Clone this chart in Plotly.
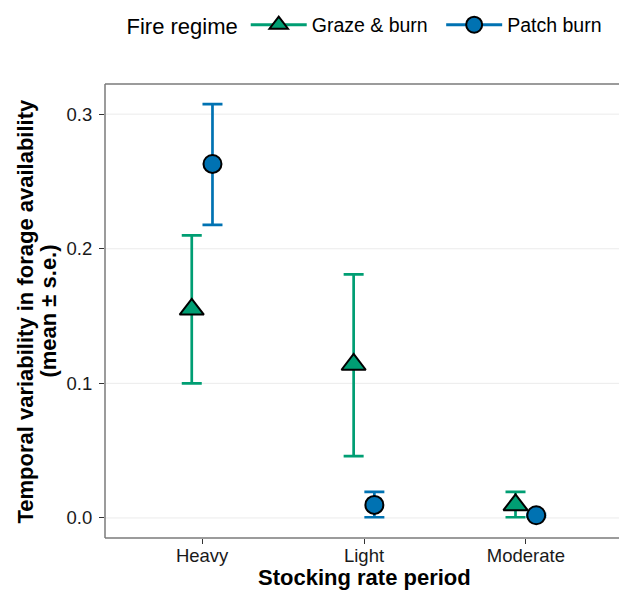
import plotly.graph_objects as go

# ---- data ----
periods = ["Heavy", "Light", "Moderate"]
regimes = ["Graze & burn", "Patch burn"]

graze_mean = [0.155, 0.114, 0.0097]
graze_low = [0.100, 0.046, 0.0005]
graze_high = [0.210, 0.181, 0.0193]

patch_mean = [0.263, 0.0097, 0.002]
patch_low = [0.2177, 0.0005, 0.001]
patch_high = [0.3075, 0.0193, 0.003]

y_ticks = [0.0, 0.1, 0.2, 0.3]

# ---- style ----
W, H = 619, 596
L, T, B, R = 104.5, 84, 57.7, 0
FONT = "Liberation Sans"
GREEN = "#009E73"
BLUE = "#0072B2"
FRAME = "#7A7A7A"
GRID = "#EBEBEB"
DODGE = 0.064

plot_w = W - L - R
plot_h = H - T - B

def px_x(p):
    return (p - L) / plot_w

def px_y(p):
    return (H - B - p) / plot_h

idx = list(range(len(periods)))

series = [
    (regimes[0], graze_mean, graze_low, graze_high, GREEN, "triangle-up", 21, -DODGE, "legend"),
    (regimes[1], patch_mean, patch_low, patch_high, BLUE, "circle", 18, DODGE, "legend2"),
]

fig = go.Figure()
for name, m, lo, hi, col, sym, size, off, lg in series:
    fig.add_trace(go.Scatter(
        x=[i + off for i in idx], y=m, mode="markers", name=name, showlegend=False,
        marker=dict(symbol=sym, size=size, color=col, line=dict(color="black", width=2)),
        error_y=dict(type="data", symmetric=False,
                     array=[h - v for h, v in zip(hi, m)],
                     arrayminus=[v - l for v, l in zip(m, lo)],
                     color=col, thickness=2.7, width=10),
    ))
for name, m, lo, hi, col, sym, size, off, lg in series:
    fig.add_trace(go.Scatter(
        x=[None], y=[None], mode="lines+markers", name=name, showlegend=True, legend=lg,
        line=dict(color=col, width=3),
        marker=dict(symbol=sym, size=size, color=col, line=dict(color="black", width=2)),
    ))

legend_common = dict(
    orientation="h", xanchor="left", y=px_y(25), yanchor="middle",
    font=dict(size=19.5, color="black"), itemsizing="trace", itemwidth=56,
    bgcolor="rgba(0,0,0,0)",
)

frame = dict(type="line", xref="paper", yref="paper", layer="above",
             line=dict(color=FRAME, width=1.5))
grid_shapes = [dict(type="line", xref="paper", yref="y", layer="below",
                    x0=0, x1=1.1, y0=v, y1=v, line=dict(color=GRID, width=1))
               for v in y_ticks]

fig.update_layout(
    width=W, height=H,
    margin=dict(l=L, r=R, t=T, b=B, pad=0, autoexpand=False),
    paper_bgcolor="white", plot_bgcolor="white",
    font=dict(family=FONT, color="black"),
    showlegend=True,
    legend=dict(legend_common, x=px_x(124),
                title=dict(text="Fire regime", side="left", font=dict(size=22, color="black"))),
    legend2=dict(legend_common, x=px_x(441)),
    xaxis=dict(
        range=[-0.6, -0.6 + 3.2 * (plot_w / (623 - L))], tickmode="array",
        tickvals=idx, ticktext=periods,
        showgrid=False, zeroline=False, showline=False,
        ticks="outside", ticklen=5, tickwidth=1.2, tickcolor="#333333",
        tickfont=dict(size=18.5, color="#1A1A1A"), ticklabelstandoff=-4,
    ),
    yaxis=dict(
        range=[-0.0149, 0.3224], tickmode="array", tickvals=y_ticks,
        tickformat=".1f",
        showgrid=False, zeroline=False, showline=False,
        ticks="outside", ticklen=5, tickwidth=1.2, tickcolor="#333333",
        tickfont=dict(size=18.5, color="#1A1A1A"), ticklabelstandoff=3,
    ),
    shapes=grid_shapes + [
        dict(frame, x0=0, x1=0, y0=0, y1=1),
        dict(frame, x0=0, x1=1.1, y0=0, y1=0),
        dict(frame, x0=0, x1=1.1, y0=1, y1=1),
    ],
    annotations=[
        dict(text="Temporal variability in forage availability", textangle=-90,
             xref="paper", yref="paper", x=px_x(24), y=0.5,
             xanchor="center", yanchor="middle", showarrow=False,
             font=dict(size=22, weight="bold", color="black")),
        dict(text="(mean ± s.e.)", textangle=-90,
             xref="paper", yref="paper", x=px_x(47), y=0.5,
             xanchor="center", yanchor="middle", showarrow=False,
             font=dict(size=22, weight="bold", color="black")),
        dict(text="Stocking rate period",
             xref="paper", yref="paper", x=px_x(364), y=px_y(578),
             xanchor="center", yanchor="middle", showarrow=False,
             font=dict(size=22, weight="bold", color="black")),
    ],
)

fig.write_html(
    "out.html",
    config={"displayModeBar": False},
    post_script="document.body.style.margin='0px';document.body.style.overflow='hidden';",
)
